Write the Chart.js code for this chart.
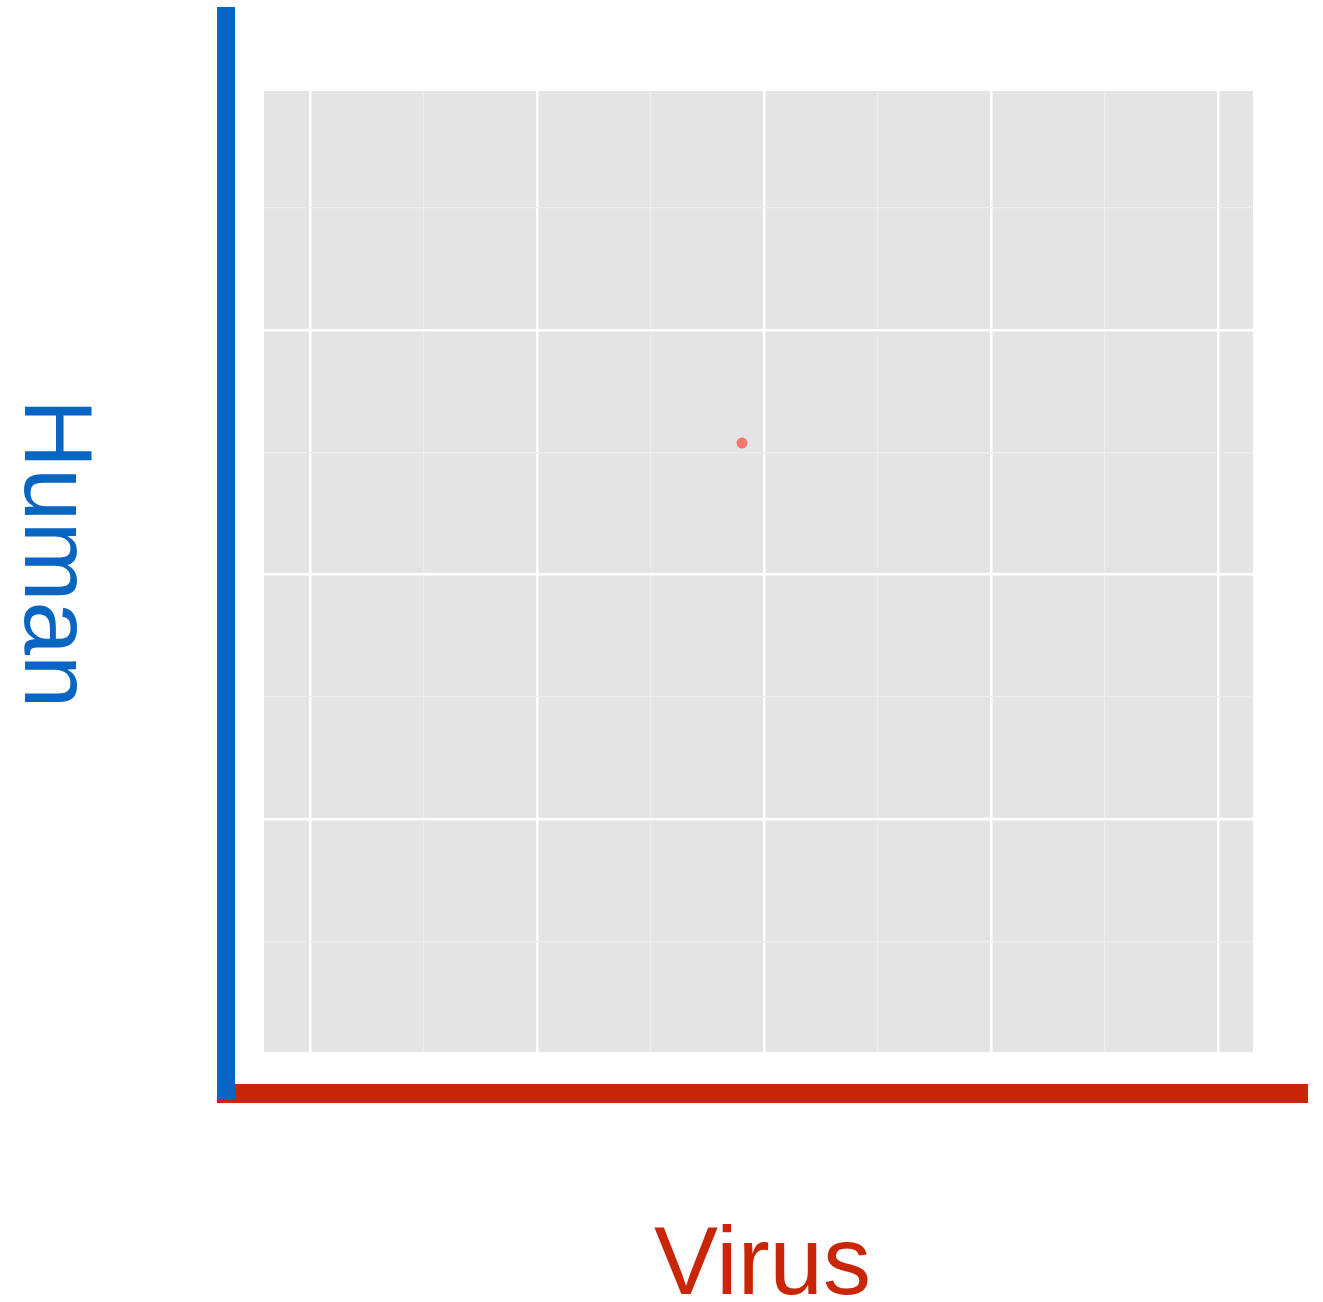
<!DOCTYPE html>
<html>
<head>
<meta charset="utf-8">
<script src="https://cdn.jsdelivr.net/npm/chart.js@4"></script>
<style>
  body { margin: 0; background: #fff; }
  canvas { display: block; }
</style>
</head>
<body>
<canvas id="chart" width="1323" height="1302"></canvas>
<script>
const xValues = [1.903];
const yValues = [1.538];
const xGridTicks = [0, 0.5, 1, 1.5, 2, 2.5, 3, 3.5, 4];
const yGridTicks = [-0.5, 0, 0.5, 1, 1.5, 2, 2.5];
const xLabel = "Virus";
const yLabel = "Human";

const PANEL_BG = "#E4E4E4";
const BLUE = "#0865C1";
const RED = "#C92608";
const POINT_COLOR = "#F8766D";

function isMajor(v) {
  return Math.abs(v - Math.round(v)) < 1e-9;
}

const panelBackground = {
  id: "panelBackground",
  beforeDraw(chart) {
    const { ctx, chartArea: a } = chart;
    ctx.save();
    ctx.fillStyle = PANEL_BG;
    ctx.fillRect(a.left, a.top, a.right - a.left, a.bottom - a.top);
    ctx.restore();
  },
};

// coloured axis bars and titles sit outside the grey panel
const axisDecor = {
  id: "axisDecor",
  afterDraw(chart) {
    const { ctx, chartArea: a } = chart;
    const barLeft = a.left - 47;
    const barTop = 7;
    const barBottom = a.bottom + 48;
    const redTop = a.bottom + 32;
    const redRight = 1308;

    ctx.save();
    ctx.fillStyle = RED;
    ctx.fillRect(barLeft, redTop, redRight - barLeft, 19);
    ctx.fillStyle = BLUE;
    ctx.fillRect(barLeft, barTop, 18, barBottom - barTop);

    ctx.font = '96px "Liberation Sans", Arial, sans-serif';
    ctx.textAlign = "center";
    ctx.textBaseline = "alphabetic";

    ctx.fillStyle = RED;
    ctx.fillText(xLabel, (barLeft + redRight) / 2, 1294);

    ctx.fillStyle = BLUE;
    ctx.translate(25, (barTop + barBottom) / 2);
    ctx.rotate(Math.PI / 2);
    ctx.fillText(yLabel, 0, 0);
    ctx.restore();
  },
};

function gridOpts() {
  return {
    drawTicks: false,
    color: (c) => (c.tick && isMajor(c.tick.value) ? "#FFFFFF" : "#EEEEEE"),
    lineWidth: (c) => (c.tick && isMajor(c.tick.value) ? 2.5 : 1.2),
  };
}

new Chart(document.getElementById("chart"), {
  type: "scatter",
  data: {
    datasets: [{
      data: xValues.map((x, i) => ({ x, y: yValues[i] })),
      backgroundColor: POINT_COLOR,
      borderWidth: 0,
      pointRadius: 5.5,
    }],
  },
  options: {
    responsive: false,
    animation: false,
    layout: { padding: { left: 264, top: 91, right: 70, bottom: 250 } },
    plugins: {
      legend: { display: false },
      tooltip: { enabled: false },
    },
    scales: {
      x: {
        type: "linear",
        min: -0.2026,
        max: 4.154,
        ticks: { display: false },
        border: { display: false },
        grid: gridOpts(),
        afterBuildTicks: (s) => { s.ticks = xGridTicks.map((v) => ({ value: v })); },
      },
      y: {
        type: "linear",
        min: -0.953,
        max: 2.978,
        ticks: { display: false },
        border: { display: false },
        grid: gridOpts(),
        afterBuildTicks: (s) => { s.ticks = yGridTicks.map((v) => ({ value: v })); },
      },
    },
  },
  plugins: [panelBackground, axisDecor],
});
</script>
</body>
</html>
